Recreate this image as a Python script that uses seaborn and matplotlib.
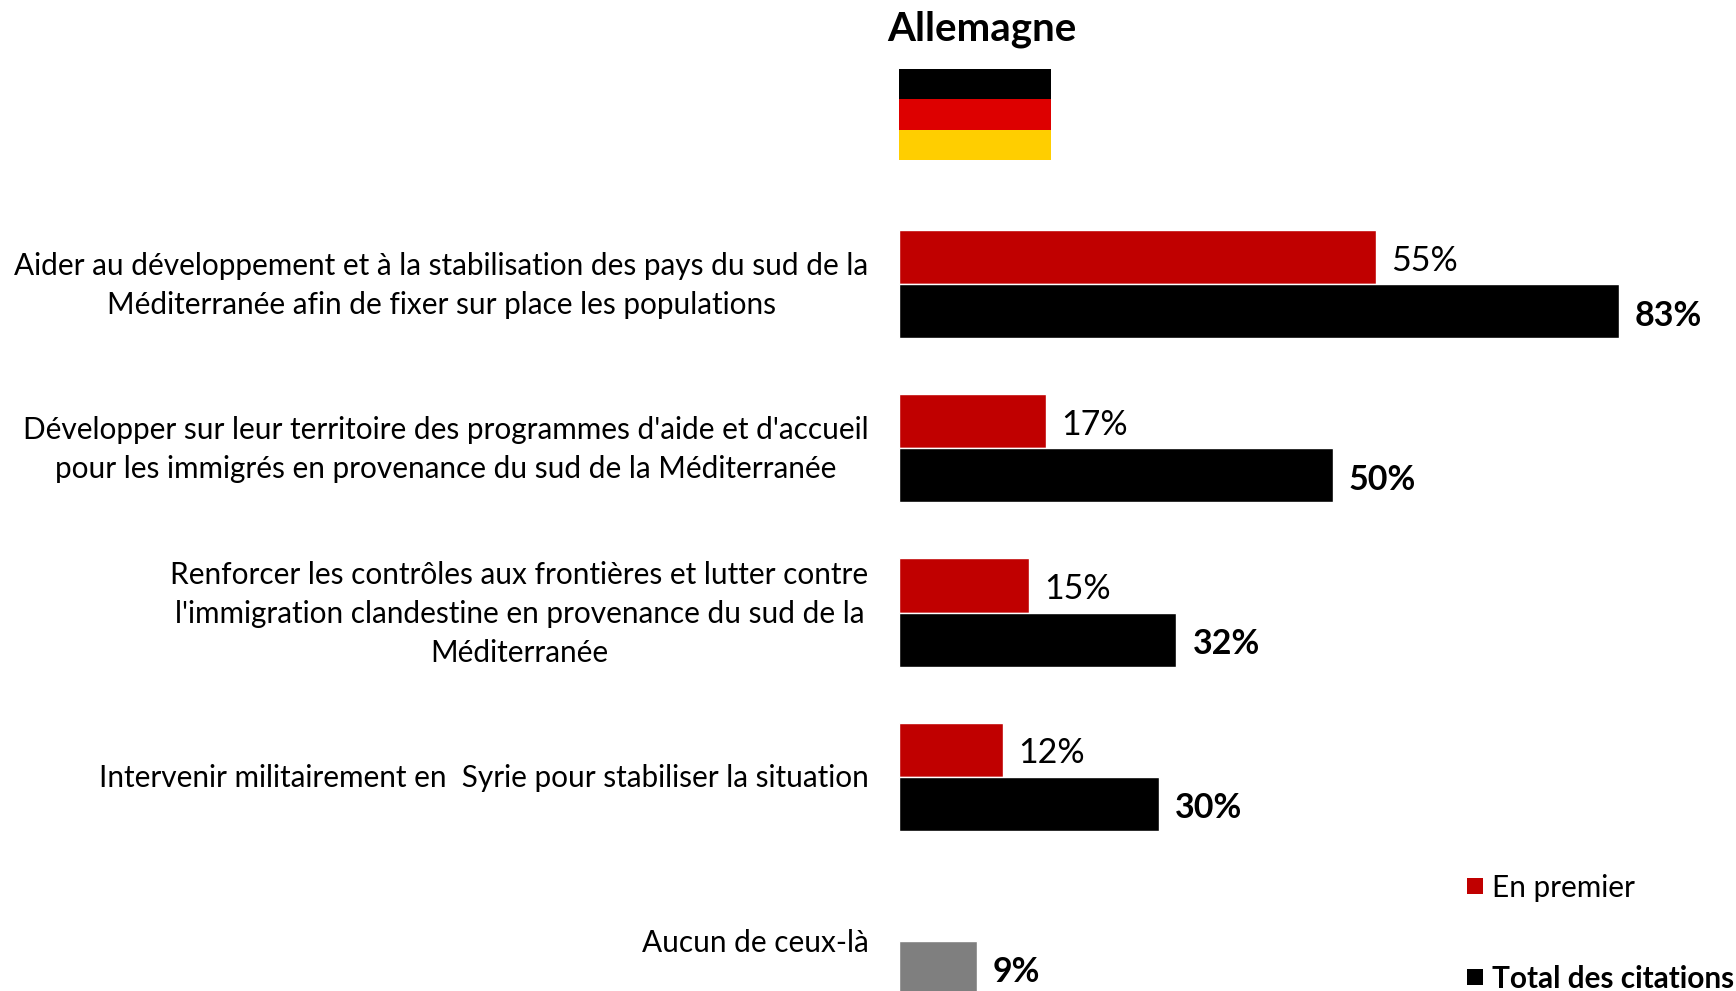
import matplotlib
matplotlib.use("Agg")
import matplotlib.pyplot as plt
import pandas as pd
import seaborn as sns

categories = [
    "Aider au développement et à la stabilisation des pays du sud de la\nMéditerranée afin de fixer sur place les populations",
    "Développer sur leur territoire des programmes d'aide et d'accueil\npour les immigrés en provenance du sud de la Méditerranée",
    "Renforcer les contrôles aux frontières et lutter contre\nl'immigration clandestine en provenance du sud de la\nMéditerranée",
    "Intervenir militairement en  Syrie pour stabiliser la situation",
    "Aucun de ceux-là",
]
en_premier = [55, 17, 15, 12]
total = [83, 50, 32, 30, 9]
series_names = ["En premier", "Total des citations"]

rows = [(categories[i], series_names[0], v) for i, v in enumerate(en_premier)]
rows += [(categories[i], series_names[1], v) for i, v in enumerate(total)]
df = pd.DataFrame(rows, columns=["cat", "serie", "val"])

sns.set_theme(style="white")
plt.rcParams["font.family"] = ["Lato", "DejaVu Sans"]

W, H = 1736, 991
X0 = 899.0
PX_PER_PCT = 8.67
TOP_BAND = 284.1
BAND = 164.2

fig = plt.figure(figsize=(W / 100, H / 100), dpi=100)
fig.patch.set_facecolor("white")
ax = fig.add_axes([X0 / W, 0, (W - X0) / W, 1])
sns.barplot(data=df, y="cat", x="val", hue="serie", order=categories, hue_order=series_names,
            palette=["#C00000", "#000000"], orient="h", width=0.66, dodge=True, legend=False,
            saturation=1, ax=ax, edgecolor="white", linewidth=1)
ax.set_ylim((H - TOP_BAND) / BAND, -TOP_BAND / BAND)
ax.set_xlim(0, (W - X0) / PX_PER_PCT)

red, black = ax.containers[0], ax.containers[1]
for p, v in zip(red.patches, en_premier):
    ax.annotate(f"{v}%", (v, p.get_y() + p.get_height() / 2), xytext=(15, -3.5), textcoords="offset pixels",
                va="center", ha="left", fontsize=24.5, color="black")
for i, (p, v) in enumerate(zip(black.patches, total)):
    if i == 4:
        p.set_facecolor("#7F7F7F")
    ax.annotate(f"{v}%", (v, p.get_y() + p.get_height() / 2), xytext=(16, -4.5), textcoords="offset pixels",
                va="center", ha="left", fontsize=24.5, fontweight="bold", color="black")

ax.set_xlabel("")
ax.set_ylabel("")
ax.set_yticks([])
ax.set_xticks([])
sns.despine(ax=ax, left=True, bottom=True, top=True, right=True)
ax.patch.set_alpha(0)

# category labels
label_y = [285.5, 449.5, 614, 778, 943]
for label, y0 in zip(categories, label_y):
    fig.text(868.5 / W, 1 - y0 / H, label, ha="right", va="center", multialignment="center",
             fontsize=21.45, color="black", linespacing=1.5)

# title and flag
fig.text(981.5 / W, 1 - 29.5 / H, "Allemagne", ha="center", va="center", fontsize=29, fontweight="bold", color="black")
flag_colors = ["#000000", "#DD0000", "#FFCE00"]
for i, c in enumerate(flag_colors):
    fig.patches.append(plt.Rectangle((899 / W, 1 - (69 + 30.33 * (i + 1)) / H), 152 / W, 30.33 / H,
                                     transform=fig.transFigure, facecolor=c, edgecolor="none", figure=fig))

# legend
for y_sq, y_txt, c, name, w in [(886, 888, "#C00000", series_names[0], "normal"),
                                (977, 979, "#000000", series_names[1], "bold")]:
    fig.patches.append(plt.Rectangle((1467 / W, 1 - (y_sq + 8) / H), 16 / W, 16 / H,
                                     transform=fig.transFigure, facecolor=c, edgecolor="none", figure=fig))
    fig.text(1492 / W, 1 - y_txt / H, name, ha="left", va="center", fontsize=21.4, fontweight=w, color="black")

fig.savefig("out.png", dpi=100)
